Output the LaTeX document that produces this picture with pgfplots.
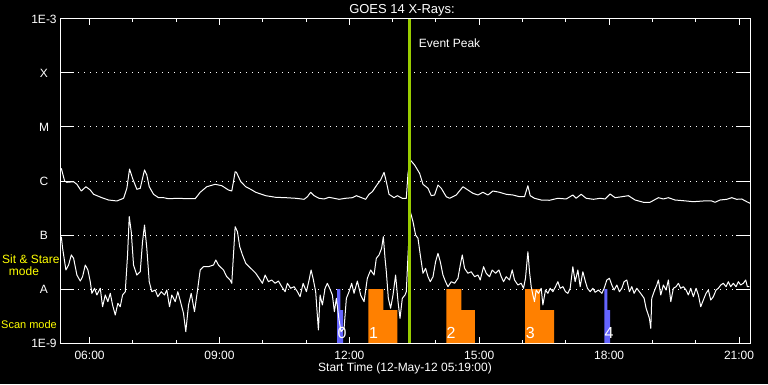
\documentclass[border=0pt]{standalone}
\usepackage{pgfplots}
\pgfplotsset{compat=1.18}
\usepackage{fontspec}
\setmainfont{Liberation Sans}
\definecolor{scanblue}{RGB}{100,100,255}
\definecolor{scanorange}{RGB}{255,128,0}
\definecolor{peakgreen}{RGB}{153,204,0}
\definecolor{labyellow}{RGB}{255,255,0}
\begin{document}
\fontsize{12bp}{14bp}\selectfont
\begin{tikzpicture}[x=1bp,y=1bp]
\useasboundingbox (0,0) rectangle (768,384);
\fill[black] (0,0) rectangle (768,384);
\begin{axis}[
  at={(60bp,41bp)}, anchor=south west,
  scale only axis, width=690bp, height=324bp,
  xmin=5.3167, xmax=21.254, ymin=-9, ymax=-3,
  axis line style={white, line width=1bp},
  every tick/.style={white, line width=1bp},
  tick align=inside, tick pos=both,
  xtick={6,9,12,15,18,21},
  xticklabels={06:00,09:00,12:00,15:00,18:00,21:00},
  minor xtick={7,8,10,11,13,14,16,17,19,20},
  major tick length=6bp, minor tick length=3bp,
  xticklabel pos=lower, yticklabel pos=left,
  xticklabel style={anchor=center, yshift=-12bp, text=white, inner sep=0pt},
  yticklabel style={anchor=center, xshift=-16bp, text=white, inner sep=0pt},
  ytick=\empty,
  extra y ticks={-9,-8,-7,-6,-5,-4,-3},
  extra y tick labels={1E-9,A,B,C,M,X,1E-3},
  extra y tick style={major tick length=14bp, grid=major},
  major grid style={white, line width=1bp, dash pattern=on 1bp off 5bp},
]
% scan bars
\addplot[fill=scanblue, draw=none] coordinates {(11.716,-9) (11.716,-8) (11.792,-8) (11.792,-8.389) (11.855,-8.389) (11.855,-9)} -- cycle;
\addplot[fill=scanorange, draw=none] coordinates {(12.438,-9) (12.438,-8) (12.785,-8) (12.785,-8.389) (13.108,-8.389) (13.108,-9)} -- cycle;
\addplot[fill=scanorange, draw=none] coordinates {(14.238,-9) (14.238,-8) (14.585,-8) (14.585,-8.389) (14.900,-8.389) (14.900,-9)} -- cycle;
\addplot[fill=scanorange, draw=none] coordinates {(16.062,-9) (16.062,-8) (16.408,-8) (16.408,-8.389) (16.731,-8.389) (16.731,-9)} -- cycle;
\addplot[fill=scanblue, draw=none] coordinates {(17.892,-9) (17.892,-8) (17.962,-8) (17.962,-8.389) (18.023,-8.389) (18.023,-9)} -- cycle;
% long channel
\addplot[white, line width=1bp, line join=round] coordinates {(5.347,-5.765) (5.423,-6.000) (5.476,-6.024) (5.631,-6.013) (5.707,-6.061) (5.808,-6.185) (5.915,-6.106) (6.016,-6.167) (6.092,-6.246) (6.284,-6.309) (6.438,-6.352) (6.630,-6.370) (6.785,-6.320) (6.861,-6.135) (6.923,-5.778) (6.992,-5.950) (7.092,-6.154) (7.170,-6.135) (7.223,-5.950) (7.269,-5.796) (7.322,-5.889) (7.378,-6.106) (7.477,-6.246) (7.592,-6.309) (7.708,-6.309) (7.823,-6.328) (8.054,-6.320) (8.245,-6.328) (8.439,-6.328) (8.555,-6.209) (8.707,-6.106) (8.901,-6.061) (9.053,-6.087) (9.208,-6.167) (9.284,-6.185) (9.323,-6.013) (9.362,-5.828) (9.392,-5.839) (9.492,-6.013) (9.607,-6.106) (9.722,-6.154) (9.838,-6.209) (10.068,-6.272) (10.299,-6.302) (10.530,-6.309) (10.761,-6.320) (10.955,-6.339) (11.031,-6.291) (11.107,-6.209) (11.185,-6.272) (11.300,-6.320) (11.416,-6.333) (11.531,-6.302) (11.646,-6.320) (11.762,-6.339) (11.914,-6.320) (12.068,-6.309) (12.161,-6.272) (12.261,-6.302) (12.376,-6.339) (12.455,-6.246) (12.531,-6.198) (12.646,-6.061) (12.722,-5.981) (12.801,-5.839) (12.854,-6.013) (12.916,-6.246) (13.032,-6.309) (13.108,-6.272) (13.223,-6.320) (13.315,-6.320) (13.355,-5.857) (13.408,-5.611) (13.507,-5.704) (13.622,-5.857) (13.701,-6.061) (13.816,-6.135) (13.892,-6.272) (13.968,-6.259) (14.047,-6.074) (14.123,-6.135) (14.238,-6.291) (14.315,-6.320) (14.469,-6.259) (14.624,-6.106) (14.739,-6.167) (14.855,-6.228) (14.970,-6.259) (15.085,-6.209) (15.201,-6.259) (15.316,-6.185) (15.468,-6.209) (15.623,-6.246) (15.777,-6.259) (15.930,-6.291) (16.045,-6.291) (16.123,-6.087) (16.177,-6.272) (16.276,-6.320) (16.431,-6.352) (16.622,-6.357) (16.816,-6.320) (17.008,-6.333) (17.162,-6.259) (17.238,-6.320) (17.354,-6.246) (17.469,-6.320) (17.638,-6.339) (17.792,-6.320) (17.908,-6.333) (18.023,-6.241) (18.138,-6.309) (18.293,-6.291) (18.445,-6.272) (18.600,-6.352) (18.791,-6.394) (18.946,-6.394) (19.138,-6.309) (19.253,-6.333) (19.368,-6.309) (19.523,-6.352) (19.714,-6.365) (19.945,-6.383) (20.176,-6.370) (20.370,-6.370) (20.446,-6.394) (20.562,-6.352) (20.716,-6.339) (20.832,-6.309) (20.947,-6.339) (21.062,-6.333) (21.178,-6.383) (21.254,-6.413)};
% short channel
\addplot[white, line width=1bp, line join=round] coordinates {(5.347,-7.031) (5.377,-7.246) (5.453,-7.648) (5.515,-7.556) (5.578,-7.370) (5.631,-7.431) (5.707,-7.741) (5.785,-7.852) (5.838,-7.772) (5.901,-7.556) (5.961,-7.648) (6.016,-7.865) (6.053,-8.080) (6.115,-7.987) (6.168,-8.111) (6.247,-7.987) (6.300,-8.328) (6.362,-8.111) (6.422,-8.235) (6.478,-8.080) (6.531,-8.296) (6.593,-8.481) (6.653,-8.265) (6.708,-8.328) (6.762,-8.111) (6.824,-8.050) (6.877,-7.370) (6.916,-6.661) (6.962,-6.939) (7.015,-7.556) (7.092,-7.741) (7.170,-7.680) (7.223,-7.124) (7.269,-6.815) (7.322,-7.246) (7.378,-7.865) (7.438,-8.050) (7.516,-8.019) (7.576,-8.143) (7.655,-8.050) (7.731,-8.111) (7.784,-8.019) (7.846,-8.328) (7.899,-8.111) (7.978,-8.235) (8.038,-8.050) (8.100,-8.235) (8.169,-8.450) (8.222,-8.791) (8.285,-8.296) (8.347,-8.080) (8.423,-8.420) (8.499,-7.987) (8.555,-7.648) (8.631,-7.587) (8.746,-7.587) (8.862,-7.556) (8.915,-7.463) (8.977,-7.556) (9.092,-7.648) (9.168,-7.772) (9.247,-7.833) (9.284,-7.894) (9.323,-7.370) (9.362,-6.846) (9.415,-6.939) (9.468,-7.217) (9.531,-7.370) (9.607,-7.524) (9.685,-7.587) (9.762,-7.648) (9.838,-7.709) (9.916,-7.802) (9.992,-7.894) (10.055,-7.741) (10.131,-7.865) (10.207,-7.833) (10.285,-7.894) (10.362,-7.852) (10.438,-7.957) (10.516,-8.050) (10.569,-7.894) (10.645,-7.987) (10.724,-7.957) (10.800,-8.050) (10.862,-8.143) (10.932,-7.894) (11.008,-8.050) (11.070,-7.833) (11.116,-7.648) (11.162,-7.802) (11.222,-8.050) (11.285,-8.759) (11.324,-8.111) (11.377,-8.296) (11.439,-7.987) (11.492,-7.894) (11.545,-7.987) (11.608,-8.111) (11.654,-8.420) (11.700,-8.172) (11.762,-8.574) (11.808,-8.791) (11.878,-8.728) (11.931,-8.172) (11.993,-8.050) (12.053,-7.894) (12.108,-8.080) (12.185,-7.852) (12.261,-8.111) (12.339,-8.235) (12.415,-7.802) (12.492,-7.648) (12.570,-7.741) (12.623,-7.431) (12.685,-7.370) (12.745,-7.246) (12.785,-7.031) (12.824,-7.431) (12.854,-7.680) (12.900,-8.172) (12.953,-8.357) (13.008,-8.111) (13.068,-7.741) (13.124,-8.235) (13.170,-8.543) (13.223,-8.172) (13.285,-8.111) (13.315,-8.050) (13.355,-7.370) (13.408,-6.569) (13.470,-6.754) (13.530,-7.000) (13.585,-7.061) (13.638,-7.370) (13.701,-7.709) (13.761,-7.617) (13.816,-7.772) (13.869,-7.865) (13.932,-7.772) (13.992,-7.494) (14.047,-7.339) (14.100,-7.494) (14.162,-7.741) (14.222,-7.865) (14.278,-7.957) (14.354,-7.865) (14.430,-7.894) (14.508,-7.802) (14.562,-7.556) (14.608,-7.370) (14.661,-7.617) (14.739,-7.709) (14.815,-7.680) (14.892,-7.772) (14.970,-7.741) (15.023,-7.833) (15.099,-7.587) (15.162,-7.709) (15.238,-7.772) (15.300,-7.648) (15.376,-7.709) (15.455,-7.648) (15.508,-7.772) (15.561,-7.865) (15.623,-7.772) (15.699,-7.833) (15.762,-7.648) (15.815,-7.833) (15.893,-7.926) (15.969,-7.894) (16.022,-7.987) (16.068,-7.802) (16.124,-7.309) (16.161,-7.680) (16.200,-7.957) (16.239,-8.111) (16.276,-8.235) (16.315,-8.019) (16.368,-8.080) (16.431,-7.987) (16.470,-8.296) (16.530,-8.019) (16.585,-8.080) (16.638,-7.987) (16.701,-8.050) (16.761,-7.957) (16.816,-7.865) (16.869,-7.987) (16.932,-7.957) (16.992,-8.050) (17.047,-8.080) (17.100,-7.987) (17.162,-7.587) (17.215,-7.865) (17.278,-7.648) (17.331,-7.957) (17.393,-7.680) (17.453,-7.865) (17.499,-7.987) (17.562,-8.050) (17.624,-7.987) (17.677,-8.061) (17.753,-8.019) (17.832,-8.080) (17.885,-7.987) (17.947,-7.833) (18.007,-7.802) (18.062,-7.926) (18.115,-8.019) (18.178,-7.926) (18.238,-8.050) (18.293,-7.987) (18.346,-7.865) (18.408,-7.833) (18.468,-8.050) (18.524,-7.957) (18.577,-8.080) (18.639,-7.987) (18.699,-8.050) (18.755,-8.111) (18.808,-8.172) (18.854,-8.357) (18.893,-8.450) (18.930,-8.543) (18.962,-8.728) (18.985,-8.172) (19.038,-8.050) (19.101,-7.926) (19.138,-7.833) (19.193,-8.111) (19.253,-7.926) (19.315,-8.019) (19.368,-7.833) (19.424,-8.235) (19.484,-7.987) (19.546,-7.957) (19.599,-7.894) (19.655,-7.987) (19.715,-7.957) (19.777,-8.019) (19.830,-8.111) (19.885,-7.987) (19.945,-8.143) (20.008,-7.987) (20.061,-8.111) (20.116,-8.328) (20.176,-8.204) (20.238,-8.080) (20.292,-8.019) (20.347,-8.204) (20.407,-8.143) (20.469,-8.019) (20.522,-7.987) (20.578,-7.926) (20.638,-7.894) (20.700,-7.957) (20.753,-7.865) (20.808,-7.957) (20.868,-7.894) (20.931,-7.957) (20.984,-7.865) (21.039,-7.926) (21.099,-7.894) (21.155,-7.833) (21.192,-7.957) (21.238,-7.957)};
% event peak
\addplot[peakgreen, line width=3bp] coordinates {(13.385,-9) (13.385,-3)};
\node[anchor=west, text=white, inner sep=0pt] at (axis cs:13.60,-3.444) {Event Peak};
\node[text=white, inner sep=0pt, font=\fontsize{16bp}{18bp}\selectfont] at (axis cs:11.832,-8.81) {0};
\node[text=white, inner sep=0pt, font=\fontsize{16bp}{18bp}\selectfont] at (axis cs:12.561,-8.81) {1};
\node[text=white, inner sep=0pt, font=\fontsize{16bp}{18bp}\selectfont] at (axis cs:14.347,-8.81) {2};
\node[text=white, inner sep=0pt, font=\fontsize{16bp}{18bp}\selectfont] at (axis cs:16.177,-8.81) {3};
\node[text=white, inner sep=0pt, font=\fontsize{16bp}{18bp}\selectfont] at (axis cs:18.000,-8.81) {4};
\end{axis}
\node[text=white, inner sep=0pt, font=\fontsize{13bp}{15bp}\selectfont] at (402,374) {GOES 14 X-Rays:};
\node[text=white, inner sep=0pt] at (405,15.5) {Start Time (12-May-12 05:19:00)};
\node[anchor=west, text=labyellow, inner sep=0pt] at (2,124.7) {Sit \& Stare};
\node[text=labyellow, inner sep=0pt] at (24,113) {mode};
\node[anchor=west, text=labyellow, inner sep=0pt, font=\fontsize{11bp}{13bp}\selectfont] at (1,59.7) {Scan mode};
\end{tikzpicture}
\end{document}
